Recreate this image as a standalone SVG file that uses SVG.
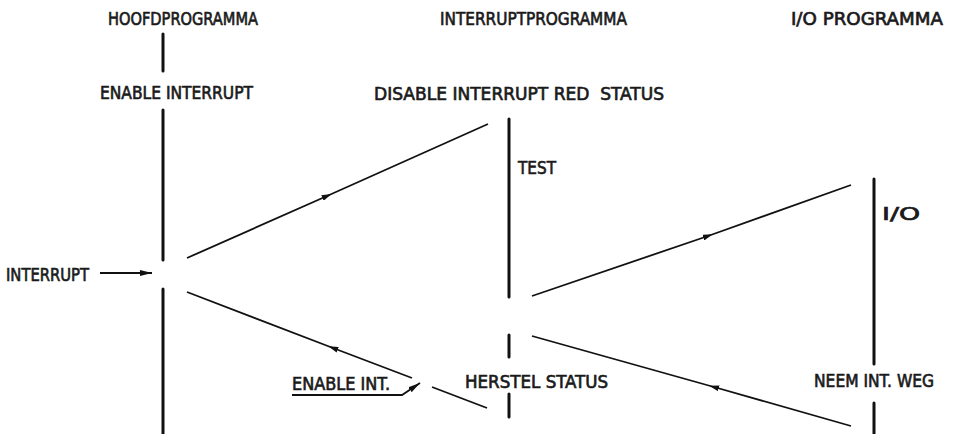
<svg xmlns="http://www.w3.org/2000/svg" width="953" height="434" viewBox="0 0 953 434">
<style>
text{font-family:"DejaVu Sans Condensed","DejaVu Sans",sans-serif;font-size:17px;fill:#1a1a1a;stroke:#1a1a1a;stroke-width:0.6;white-space:pre}
.v{stroke:#111;stroke-width:3;fill:none;stroke-linecap:round}
.d{stroke:#111;stroke-width:1.8;fill:none}
</style>
<defs>
<marker id="ah" viewBox="0 0 10 6" refX="5" refY="3" markerWidth="10" markerHeight="6" markerUnits="userSpaceOnUse" orient="auto"><path d="M0,0 L10,3 L0,6 Z" fill="#111"/></marker>
<marker id="ahe" viewBox="0 0 12 6" refX="12" refY="3" markerWidth="12" markerHeight="6" markerUnits="userSpaceOnUse" orient="auto"><path d="M0,0 L12,3 L0,6 Z" fill="#111"/></marker>
</defs>
<rect width="953" height="434" fill="#fff"/>
<g id="hoofd">
<text x="108" y="25" textLength="150" lengthAdjust="spacingAndGlyphs">HOOFDPROGRAMMA</text>
<text x="100" y="99" textLength="153" lengthAdjust="spacingAndGlyphs">ENABLE INTERRUPT</text>
<line class="v" x1="163" y1="34" x2="163" y2="71"/>
<line class="v" x1="163" y1="110" x2="163" y2="260"/>
<line class="v" x1="163" y1="289" x2="163" y2="434"/>
</g>
<g id="interrupt">
<text x="440" y="25" textLength="187" lengthAdjust="spacingAndGlyphs">INTERRUPTPROGRAMMA</text>
<text x="374" y="100" textLength="290" lengthAdjust="spacingAndGlyphs" xml:space="preserve">DISABLE INTERRUPT RED  STATUS</text>
<text x="518" y="174" textLength="38" lengthAdjust="spacingAndGlyphs">TEST</text>
<text x="465" y="388" textLength="143" lengthAdjust="spacingAndGlyphs">HERSTEL STATUS</text>
<line class="v" x1="509" y1="119" x2="509" y2="297"/>
<line class="v" x1="509" y1="335" x2="509" y2="357"/>
<line class="v" x1="509" y1="394" x2="509" y2="417"/>
</g>
<g id="io">
<text x="791" y="25" textLength="152" lengthAdjust="spacingAndGlyphs">I/O PROGRAMMA</text>
<text x="882" y="220" textLength="38" lengthAdjust="spacingAndGlyphs">I/O</text>
<text x="814" y="387" textLength="120" lengthAdjust="spacingAndGlyphs">NEEM INT. WEG</text>
<line class="v" x1="874" y1="179" x2="874" y2="364"/>
<line class="v" x1="874" y1="403" x2="874" y2="434"/>
</g>
<g id="interrupt-label">
<text x="6" y="281" textLength="83" lengthAdjust="spacingAndGlyphs">INTERRUPT</text>
</g>
<g id="enable-int">
<text x="292" y="390" textLength="98" lengthAdjust="spacingAndGlyphs">ENABLE INT.</text>
</g>
<g id="connectors">
<line x1="100" y1="273" x2="152" y2="273" class="d" marker-end="url(#ahe)"/>
<path class="d" d="M187,258 L327,196 L488,124" marker-mid="url(#ah)"/>
<path class="d" d="M412,378 L333,348 L187,292" marker-mid="url(#ah)"/>
<line class="d" x1="432" y1="387" x2="487" y2="408"/>
<path class="d" d="M532,296 L708,236 L851,185" marker-mid="url(#ah)"/>
<path class="d" d="M851,426 L714,387 L532,336" marker-mid="url(#ah)"/>
<path class="d" d="M292,395 L402,395 L420,383" marker-end="url(#ahe)"/>
</g>
</svg>
